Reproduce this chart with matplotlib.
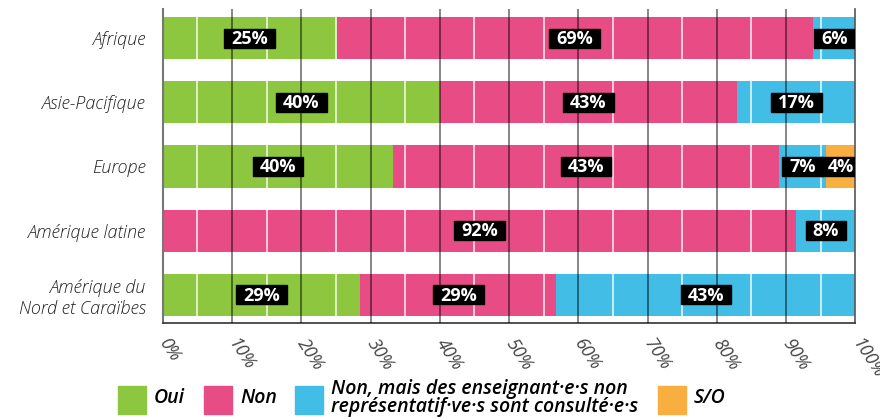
import matplotlib.pyplot as plt
import matplotlib.patches as mpatches
import numpy as np

plt.rcParams['font.family'] = ['Open Sans', 'DejaVu Sans']

regions = ["Afrique", "Asie-Pacifique", "Europe", "Amérique latine", "Amérique du\nNord et Caraïbes"]
series = ["Oui", "Non", "Non, mais des enseignant·e·s non\nreprésentatif·ve·s sont consulté·e·s", "S/O"]
colors = ["#8DC63F", "#E84C84", "#41BDE6", "#F9AE40"]

# largeurs des segments telles que dessinées (en %)
oui = [25.1, 40.0, 33.2, 0.0, 28.5]
non = [68.8, 42.9, 55.8, 91.5, 28.3]
non_mais = [6.1, 17.1, 6.7, 8.5, 43.2]
so = [0.0, 0.0, 4.3, 0.0, 0.0]

# étiquettes affichées
lab_oui = ["25%", "40%", "40%", "", "29%"]
lab_non = ["69%", "43%", "43%", "92%", "29%"]
lab_non_mais = ["6%", "17%", "7%", "8%", "43%"]
lab_so = ["", "", "4%", "", ""]

ticks = np.arange(0, 101, 10)
tick_labels = [f"{t}%" for t in ticks]

W, H = 880, 418
fig = plt.figure(figsize=(W / 100, H / 100), dpi=100)
ax = fig.add_axes([0.185, 0.227, 0.787, 0.751])
ax.set_xlim(0, 100)
ax.set_ylim(4.44, -0.45)

y = np.arange(len(regions))
values = [oui, non, non_mais, so]
labels = [lab_oui, lab_non, lab_non_mais, lab_so]
left = np.zeros(len(regions))
texts = []
for vals, labs, col in zip(values, labels, colors):
    vals = np.array(vals)
    ax.barh(y, vals, left=left, height=0.656, color=col, zorder=1)
    for i, (v, lab) in enumerate(zip(vals, labs)):
        if lab:
            t = ax.text(left[i] + v / 2, y[i] + 0.01, lab, ha='center', va='center',
                        color='white', fontsize=13, fontweight='bold', zorder=6)
            texts.append(t)
    left += vals

# lignes blanches tous les 5 %, lignes noires tous les 10 %
for x in np.arange(5, 100, 10):
    ax.axvline(x, color='white', lw=1.2, alpha=0.85, zorder=2)
for x in ticks[1:-1]:
    ax.axvline(x, color='black', lw=1.1, alpha=0.6, zorder=3)

# boîtes noires derrière les étiquettes
fig.canvas.draw()
renderer = fig.canvas.get_renderer()
px_x = 100 / (0.787 * W)
px_y = 4.89 / (0.751 * H)
for t in texts:
    bb = t.get_window_extent(renderer)
    w = (bb.width + 14) * px_x
    h = 19 * px_y
    cx, cy = t.get_position()
    ax.add_patch(mpatches.Rectangle((cx - w / 2, cy - 0.01 - h / 2), w, h,
                                    color='black', zorder=5))

ax.set_yticks(y)
ax.set_yticklabels(regions, fontsize=13, style='italic', fontweight='light',
                   color='#222222', linespacing=1.2)
ax.tick_params(axis='y', length=0, pad=12)
ax.set_xticks(ticks)
ax.set_xticklabels(tick_labels, rotation=-57, ha='left', va='center',
                   rotation_mode='anchor', fontsize=13, style='italic',
                   color='#444444')
ax.tick_params(axis='x', length=0, pad=12)

ax.spines['top'].set_visible(False)
ax.spines['left'].set_color('#777777')
ax.spines['left'].set_linewidth(1.5)
ax.spines['right'].set_color('#555555')
ax.spines['right'].set_linewidth(1.2)
ax.spines['bottom'].set_color('#333333')
ax.spines['bottom'].set_linewidth(1.2)

# légende
sq = 28
x_sq = [118, 204, 295, 658]
for xs, col, name in zip(x_sq, colors, series):
    fig.patches.append(mpatches.Rectangle((xs / W, (H - 414) / H), sq / W, sq / H,
                                          transform=fig.transFigure, color=col))
    fig.text((xs + sq + 8) / W, (H - 398) / H, name, ha='left', va='center',
             fontsize=14, style='italic', fontweight='semibold', linespacing=0.85)

fig.savefig("out.png", dpi=100)
